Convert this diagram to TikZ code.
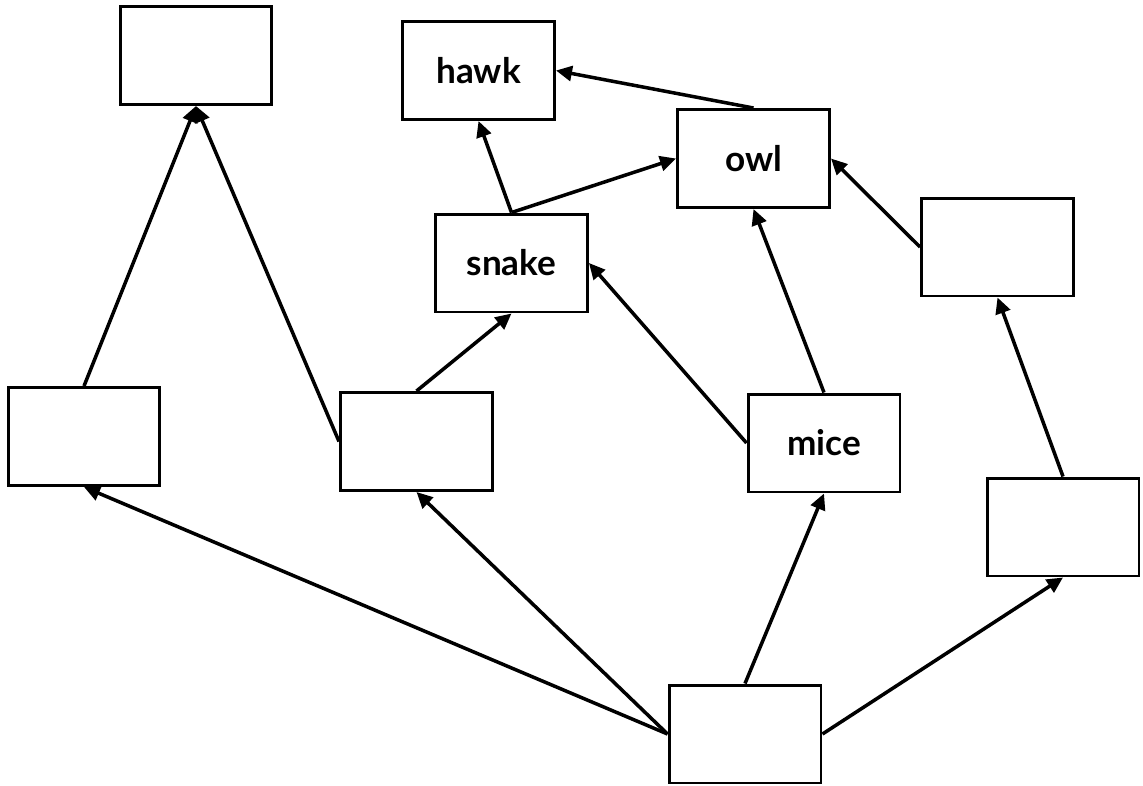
\documentclass[tikz,border=0pt]{standalone}
\usepackage{fontspec}
\setmainfont{Lato}
\usetikzlibrary{arrows.meta}
\begin{document}
\begin{tikzpicture}[x=0.02cm,y=-0.02cm,
  box/.style={draw=black,line width=1.7pt,minimum width=3.04cm,minimum height=1.96cm,inner sep=0pt,font=\fontsize{20}{24}\selectfont\bfseries},
  arr/.style={line width=2pt,-{Triangle[length=0.32cm,width=0.3cm]}}]
\useasboundingbox (0,0) rectangle (1143,785);
\node[box] (tl) at (196,55.5) {};
\node[box] (hawk) at (478.5,70.5) {hawk};
\node[box] (owl) at (753.5,158.5) {owl};
\node[box] (snake) at (511.5,263) {snake};
\node[box] (ru) at (997.5,247) {};
\node[box] (l) at (84,436.5) {};
\node[box] (ml) at (416.5,441.5) {};
\node[box] (mice) at (824,443) {mice};
\node[box] (rl) at (1063,527) {};
\node[box] (bot) at (745,734) {};
\draw[arr] (l.north) -- (tl.south);
\draw[arr] (ml.west) -- (tl.south);
\draw[arr] (ml.north) -- (snake.south);
\draw[arr] (snake.north) -- (hawk.south);
\draw[arr] (snake.north) -- (owl.west);
\draw[arr] (owl.north) -- (hawk.east);
\draw[arr] (ru.west) -- (owl.east);
\draw[arr] (mice.west) -- (snake.east);
\draw[arr] (mice.north) -- (owl.south);
\draw[arr] (rl.north) -- (ru.south);
\draw[arr] (bot.west) -- (l.south);
\draw[arr] (bot.west) -- (ml.south);
\draw[arr] (bot.north) -- (mice.south);
\draw[arr] (bot.east) -- (rl.south);
\end{tikzpicture}
\end{document}
